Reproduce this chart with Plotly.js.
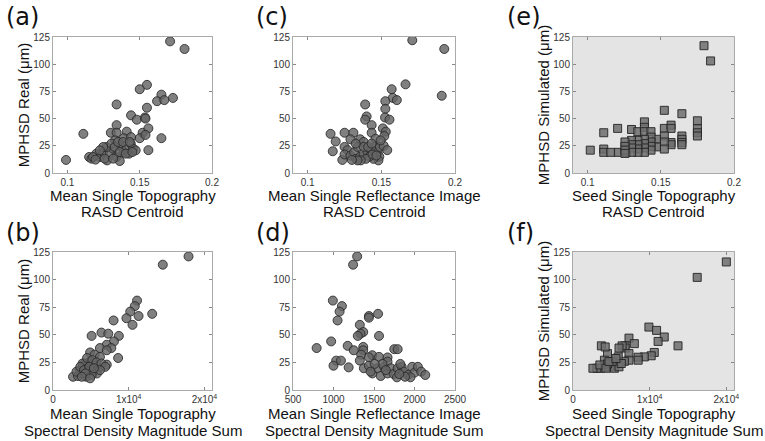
<!DOCTYPE html>
<html><head><meta charset="utf-8">
<script src="https://cdn.plot.ly/plotly-3.0.1.min.js"></script>
<style>html,body{margin:0;padding:0;background:#fff}#c{width:765px;height:441px}</style>
</head><body><div id="c"></div>
<script>
// (a) Mean Single Topography RASD Centroid vs MPHSD Real
const aX = [0.099,0.111,0.171,0.181,0.155,0.150,0.134,0.144,0.148,0.134,0.165,0.173,0.162,0.167,0.155,0.1536,0.154,0.141,0.152,0.150,0.156,0.154,0.165,0.156,0.130,0.134,0.133,0.139,0.144,
  0.115,0.1166,0.120,0.1224,0.1247,0.1274,0.1293,0.1316,0.1339,0.1362,0.1373,0.1389,0.1408,0.1426,0.1438,0.1454,0.1472,0.127,0.1304,0.1327,0.1247,0.135,0.1385,0.1431,0.1224,0.1177,0.1194,0.1258,0.1316,0.1362,0.1403,0.1449];
const aY = [12,36,121,114,81,77,63,53,49,44,72,69,66,67,60,51,50,38,37,32,41,35,32,21,37,37,30,32,33,
  14.7,13.2,17.8,14.7,19.3,11.6,17.8,22.4,14.7,11,23.9,19.3,22.4,17.8,27,22.4,20.8,23.9,27,23.9,23.9,28.5,28.5,28.5,20.8,14.7,12.3,13.2,13.2,19.3,17.8,19.3];
// (b) Mean Single Topography Spectral Density Magnitude Sum vs MPHSD Real
const bX = [17900,14500,13100,11100,10800,10200,9700,11300,10500,8000,6400,7300,8700,5100,8050,7100,6200,7700,7100,8600,7100,4900,5500,6200,
  2650,3300,3800,4000,4300,4600,4200,4900,5500,6000,5300,5800,4400,5100,3500,3900,4500,5200,5750,6400,6900,6200,3100,3600,4100,4800,4300,3800,5400,4900];
const bY = [121,113.5,69,81,76,71,65,67,59,63,52,51,49,49,44,41,38,38,36,29,23,34,32,30,
  12,12.7,15,19.7,21,16.6,24,26,23,19.7,16.6,15,12,13.6,18,24,29,27,25,24,21,18,16.6,21,18,21,15,12,19.7,10.6];
// (c) Mean Single Reflectance Image RASD Centroid vs MPHSD Real
const cX = [0.171,0.1927,0.191,0.1664,0.157,0.1578,0.1605,0.1527,0.1527,0.1525,0.1555,0.139,0.140,0.139,0.1434,0.1434,0.151,0.153,0.152,0.146,0.1155,0.119,0.117,0.125,0.131,0.129,0.1356,0.138,0.125,0.127,
  0.1235,0.125,0.129,0.1315,0.1338,0.1327,0.1356,0.138,0.1406,0.143,0.145,0.1475,0.149,0.1516,0.154,0.1486,0.148,0.1446,0.1418,0.1395,0.136,0.1338,0.130,0.144,0.1466,0.138,0.141,0.1326,0.1434,0.1495];
const cY = [122,114,71,81.5,77,69,67,66,59,51,49,63,52,49,44,37,41,38,34,31.5,36,29,20,37,37,31,31,28.5,24,21,
  12,17,16,19,24,13,15,18,20,21,24,19,24,25,21,15,11.6,13,15,13,11.6,11.6,12,17,16,24,24,27,27,30];
// (d) Mean Single Reflectance Image Spectral Density Magnitude Sum vs MPHSD Real
const dX = [1292,1242,992,1104,1075,1050,1437,1437,1550,1325,1367,1333,1300,1562,792,971,1175,1250,1367,1367,1342,1479,1562,1667,1750,1792,1033,1092,1000,1187,1325,1375,1437,1437,
  1479,1542,1583,1625,1667,1667,1708,1742,1783,1792,1842,1867,1917,1971,2000,2042,2083,2133,1950,1883,1812,1825,1604,1508,1458,1646];
const dY = [121,113.5,81,76,71,63,67,65.5,69,59,52.5,51,49,49,38,44,40,36,39,36,32,31.5,30,29.5,37,37,26.6,26.6,22,20.5,26.6,19.7,29.6,22,
  15,19.7,12.7,21,15,25.7,19.7,14.5,11.5,19.7,21,16.6,13.6,21,15.7,21,16.6,13.6,11.5,12,14.5,23.6,23.6,23.6,16.6,18];
// (e) Seed Single Topography RASD Centroid vs MPHSD Simulated
const eX = [0.1018,0.111,0.111,0.111,0.1158,0.121,0.1266,0.1205,0.130,0.1343,0.1388,0.1388,0.1388,0.1433,0.1524,0.1524,0.157,0.157,0.1644,0.1644,0.1644,0.1644,0.1644,0.175,0.175,0.175,0.175,0.1795,0.184,
  0.157,0.157,0.1524,0.1524,0.1524,0.147,0.147,0.1433,0.1433,0.1433,0.1433,0.1388,0.1388,0.1388,0.1388,0.1343,0.1343,0.1343,0.1343,0.130,0.130,0.130,0.130,0.1255,0.1255,0.1255,0.1255];
const eY = [21,37,22,19,19,19,19,41,40,38,47,42,38,38,57.6,41,44,41,54.5,34,31,28,26,48,40.7,37,34,117,103,
  28,26,34,28.5,22,31,24,33,28.5,24.5,21,31,27,23,19,30,26,22,19,30,26,23,19,28.5,24.5,21,18];
// (f) Seed Single Topography Spectral Density Magnitude Sum vs MPHSD Simulated
const fX = [20000,16200,13700,9900,10900,11900,11100,10600,10200,9300,8500,8500,7300,8000,6800,6800,6400,6000,7300,7300,6700,5900,5800,5100,4500,3700,4200,4100,4100,3600,3100,2600,4700,5400,6000,6300,5100,4500,3500,4300,4700,5600];
const fY = [116,102,40,57,54,48,44,34,31,30,29.7,27,47,42,40,38,40,38,33,27,26,30,24,22,33,40,39,27,21,19.7,19.7,19.7,21,19.7,21,24,25.7,23.6,22.7,19.7,25.7,28.5];

const yTicks = [0,25,50,75,100,125];
const topoTickVals = [0,10000,20000];
const topoTickText = ['0','1x10<sup>4</sup>','2x10<sup>4</sup>'];
const centroidTicks = [0.1,0.15,0.2];
const reflTicks = [500,1000,1500,2000,2500];
const panelLabels = ['(a)','(b)','(c)','(d)','(e)','(f)'];
// x-axis titles, two lines each, ordered a,b,c,d,e,f
const xTitles = [
  ['Mean Single Topography','RASD Centroid'],
  ['Mean Single Topography','Spectral Density Magnitude Sum'],
  ['Mean Single Reflectance Image','RASD Centroid'],
  ['Mean Single Reflectance Image','Spectral Density Magnitude Sum'],
  ['Seed Single Topography','RASD Centroid'],
  ['Seed Single Topography','Spectral Density Magnitude Sum']
];
const yTitleReal = 'MPHSD Real (μm)';
const yTitleSim = 'MPHSD Simulated (μm)';

const circ = {size:9, color:'rgba(100,100,100,0.82)', line:{color:'rgba(40,40,40,0.85)', width:1}};
const sq = {size:8, symbol:'square', color:'rgba(110,110,110,0.85)', line:{color:'rgba(35,35,35,0.9)', width:1}};

function tr(x,y,m,ax){return {type:'scatter',mode:'markers',x:x,y:y,marker:m,xaxis:'x'+ax,yaxis:'y'+ax,hoverinfo:'none'};}
const data = [tr(aX,aY,circ,''),tr(bX,bY,circ,'2'),tr(cX,cY,circ,'3'),tr(dX,dY,circ,'4'),tr(eX,eY,sq,'5'),tr(fX,fY,sq,'6')];

const W=765,H=441;
const col=[[53,212],[293,455],[573,734]];
const row=[[37,173],[252,390]];
function xd(c){return [col[c][0]/W,col[c][1]/W];}
function yd(r){return [1-row[r][1]/H,1-row[r][0]/H];}

const FONT='Liberation Sans, Arial, sans-serif';
const tickFont={family:FONT,size:10,color:'#333'};
function xa(c,range,tv,tt,anchor){
  return {domain:xd(c),anchor:anchor,range:range,tickvals:tv,ticktext:tt,showgrid:false,zeroline:false,
    showline:true,linecolor:'#aaa',linewidth:1,mirror:'ticks',ticks:'inside',ticklen:3,tickcolor:'#888',
    tickfont:tickFont};
}
function ya(r,title,anchor){
  const o = {domain:yd(r),anchor:anchor,range:[0,125],tickvals:yTicks,showgrid:false,zeroline:false,
    showline:true,linecolor:'#aaa',linewidth:1,mirror:'ticks',ticks:'inside',ticklen:3,tickcolor:'#888',
    tickfont:tickFont};
  if(title) o.title={text:title,font:{family:FONT,size:15,color:'#111'},standoff:0};
  return o;
}
// panel order a,b,c,d,e,f -> (col,row)
const panelCR=[[0,0],[0,1],[1,0],[1,1],[2,0],[2,1]];
const labPos=[[4,17],[4,233],[254,17],[254,233],[505,17],[505,233]];
const annotations = [];
panelLabels.forEach((t,i)=>annotations.push({text:t,xref:'paper',yref:'paper',x:labPos[i][0]/W,y:1-labPos[i][1]/H,
  xanchor:'left',yanchor:'middle',showarrow:false,font:{family:'DejaVu Sans, sans-serif',size:24,color:'#111'}}));
const titleLineY=[[195,212],[413,430]];
xTitles.forEach((lines,i)=>{
  const [c,r]=panelCR[i];
  const cx=(col[c][0]+col[c][1])/2/W;
  lines.forEach((ln,k)=>annotations.push({text:ln,xref:'paper',yref:'paper',x:cx,y:1-titleLineY[r][k]/H,
    xanchor:'center',yanchor:'middle',showarrow:false,font:{family:FONT,size:15,color:'#111'}}));
});

const layout = {
  width:W,height:H,margin:{l:0,r:0,t:0,b:0},paper_bgcolor:'#fff',plot_bgcolor:'rgba(0,0,0,0)',showlegend:false,
  xaxis: xa(0,[0.09,0.2],centroidTicks,null,'y'),
  yaxis: ya(0,yTitleReal,'x'),
  xaxis2: xa(0,[0,21000],topoTickVals,topoTickText,'y2'),
  yaxis2: ya(1,yTitleReal,'x2'),
  xaxis3: xa(1,[0.09,0.2],centroidTicks,null,'y3'),
  yaxis3: ya(0,null,'x3'),
  xaxis4: xa(1,[500,2500],reflTicks,null,'y4'),
  yaxis4: ya(1,null,'x4'),
  xaxis5: xa(2,[0.09,0.2],centroidTicks,null,'y5'),
  yaxis5: ya(0,yTitleSim,'x5'),
  xaxis6: xa(2,[0,21000],topoTickVals,topoTickText,'y6'),
  yaxis6: ya(1,yTitleSim,'x6'),
  shapes:[
    {type:'rect',xref:'x5 domain',yref:'y5 domain',x0:0,x1:1,y0:0,y1:1,fillcolor:'#e4e4e4',line:{width:0},layer:'below'},
    {type:'rect',xref:'x6 domain',yref:'y6 domain',x0:0,x1:1,y0:0,y1:1,fillcolor:'#e4e4e4',line:{width:0},layer:'below'}
  ],
  annotations:annotations
};
Plotly.newPlot('c',data,layout,{staticPlot:true});
</script></body></html>
